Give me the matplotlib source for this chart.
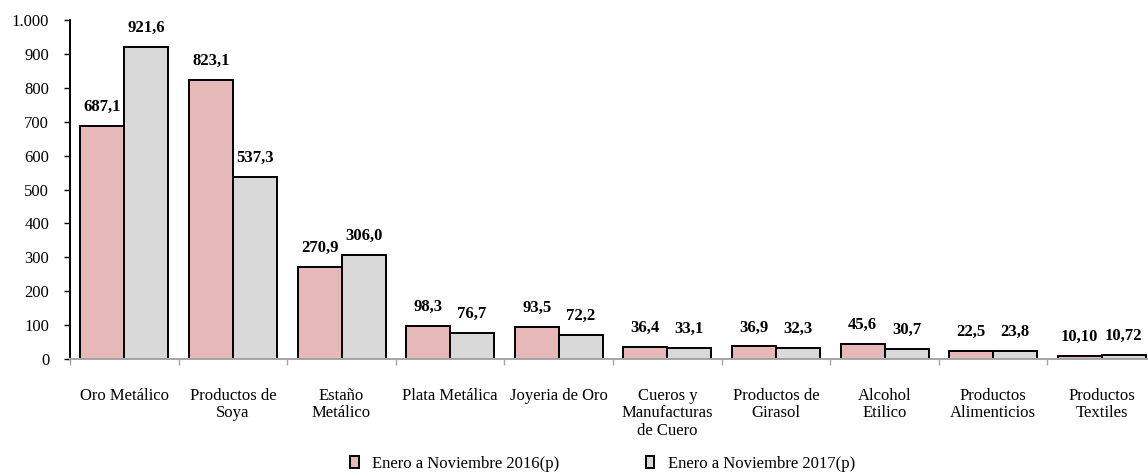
import matplotlib.pyplot as plt
import numpy as np
from matplotlib.ticker import FuncFormatter, FixedLocator

categorias = ["Oro Metálico", "Productos de\nSoya", "Estaño\nMetálico", "Plata Metálica",
              "Joyeria de Oro", "Cueros y\nManufacturas\nde Cuero", "Productos de\nGirasol",
              "Alcohol\nEtilico", "Productos\nAlimenticios", "Productos\nTextiles"]
valores_2016 = [687.1, 823.1, 270.9, 98.3, 93.5, 36.4, 36.9, 45.6, 22.5, 10.10]
valores_2017 = [921.6, 537.3, 306.0, 76.7, 72.2, 33.1, 32.3, 30.7, 23.8, 10.72]
etiquetas_2016 = ["687,1", "823,1", "270,9", "98,3", "93,5", "36,4", "36,9", "45,6", "22,5", "10,10"]
etiquetas_2017 = ["921,6", "537,3", "306,0", "76,7", "72,2", "33,1", "32,3", "30,7", "23,8", "10,72"]
serie_2016 = "Enero a Noviembre 2016(p)"
serie_2017 = "Enero a Noviembre 2017(p)"

plt.rcParams['font.family'] = ['Liberation Serif', 'DejaVu Serif']

fig = plt.figure(figsize=(11.48, 4.72), dpi=100)
ax = fig.add_axes([0.061, 0.2394, 0.946, 0.718])

x = np.arange(len(categorias))
w = 0.405
b1 = ax.bar(x - w / 2, valores_2016, w, color="#E6B9B8", edgecolor="black", linewidth=1.4, label=serie_2016)
b2 = ax.bar(x + w / 2, valores_2017, w, color="#D9D9D9", edgecolor="black", linewidth=1.4, label=serie_2017)

for bars, labs in [(b1, etiquetas_2016), (b2, etiquetas_2017)]:
    for r, t in zip(bars, labs):
        ax.annotate(t, (r.get_x() + r.get_width() / 2, r.get_height()), xytext=(0, 8),
                    textcoords="offset points", ha="center", va="bottom",
                    fontsize=12, fontweight="bold")

ax.set_xlim(-0.5, len(categorias) - 0.5)
ax.set_ylim(0, 1000)
ax.set_yticks(range(0, 1001, 100))
ax.yaxis.set_major_formatter(FuncFormatter(lambda v, p: f"{int(v):,}".replace(",", ".")))
ax.set_xticks(x)
ax.set_xticklabels(categorias, fontsize=12, linespacing=1.1)
ax.xaxis.set_minor_locator(FixedLocator(np.arange(-0.5, len(categorias), 1)))
ax.tick_params(axis="x", which="major", length=0, pad=21)
ax.tick_params(axis="x", which="minor", length=4, color="#A6A6A6", width=1)
ax.tick_params(axis="y", length=4, width=1, labelsize=12, pad=11)

for s in ["top", "right"]:
    ax.spines[s].set_visible(False)
ax.spines["left"].set_linewidth(1.4)
ax.spines["bottom"].set_color("#A6A6A6")
ax.spines["bottom"].set_linewidth(1.4)

fig.legend(handles=[b1, b2], loc="lower center", bbox_to_anchor=(0.525, -0.032), ncol=2,
           frameon=False, fontsize=12, columnspacing=5.2, handlelength=0.5, handleheight=0.75,
           handletextpad=0.8)

fig.savefig("out.png", dpi=100)
